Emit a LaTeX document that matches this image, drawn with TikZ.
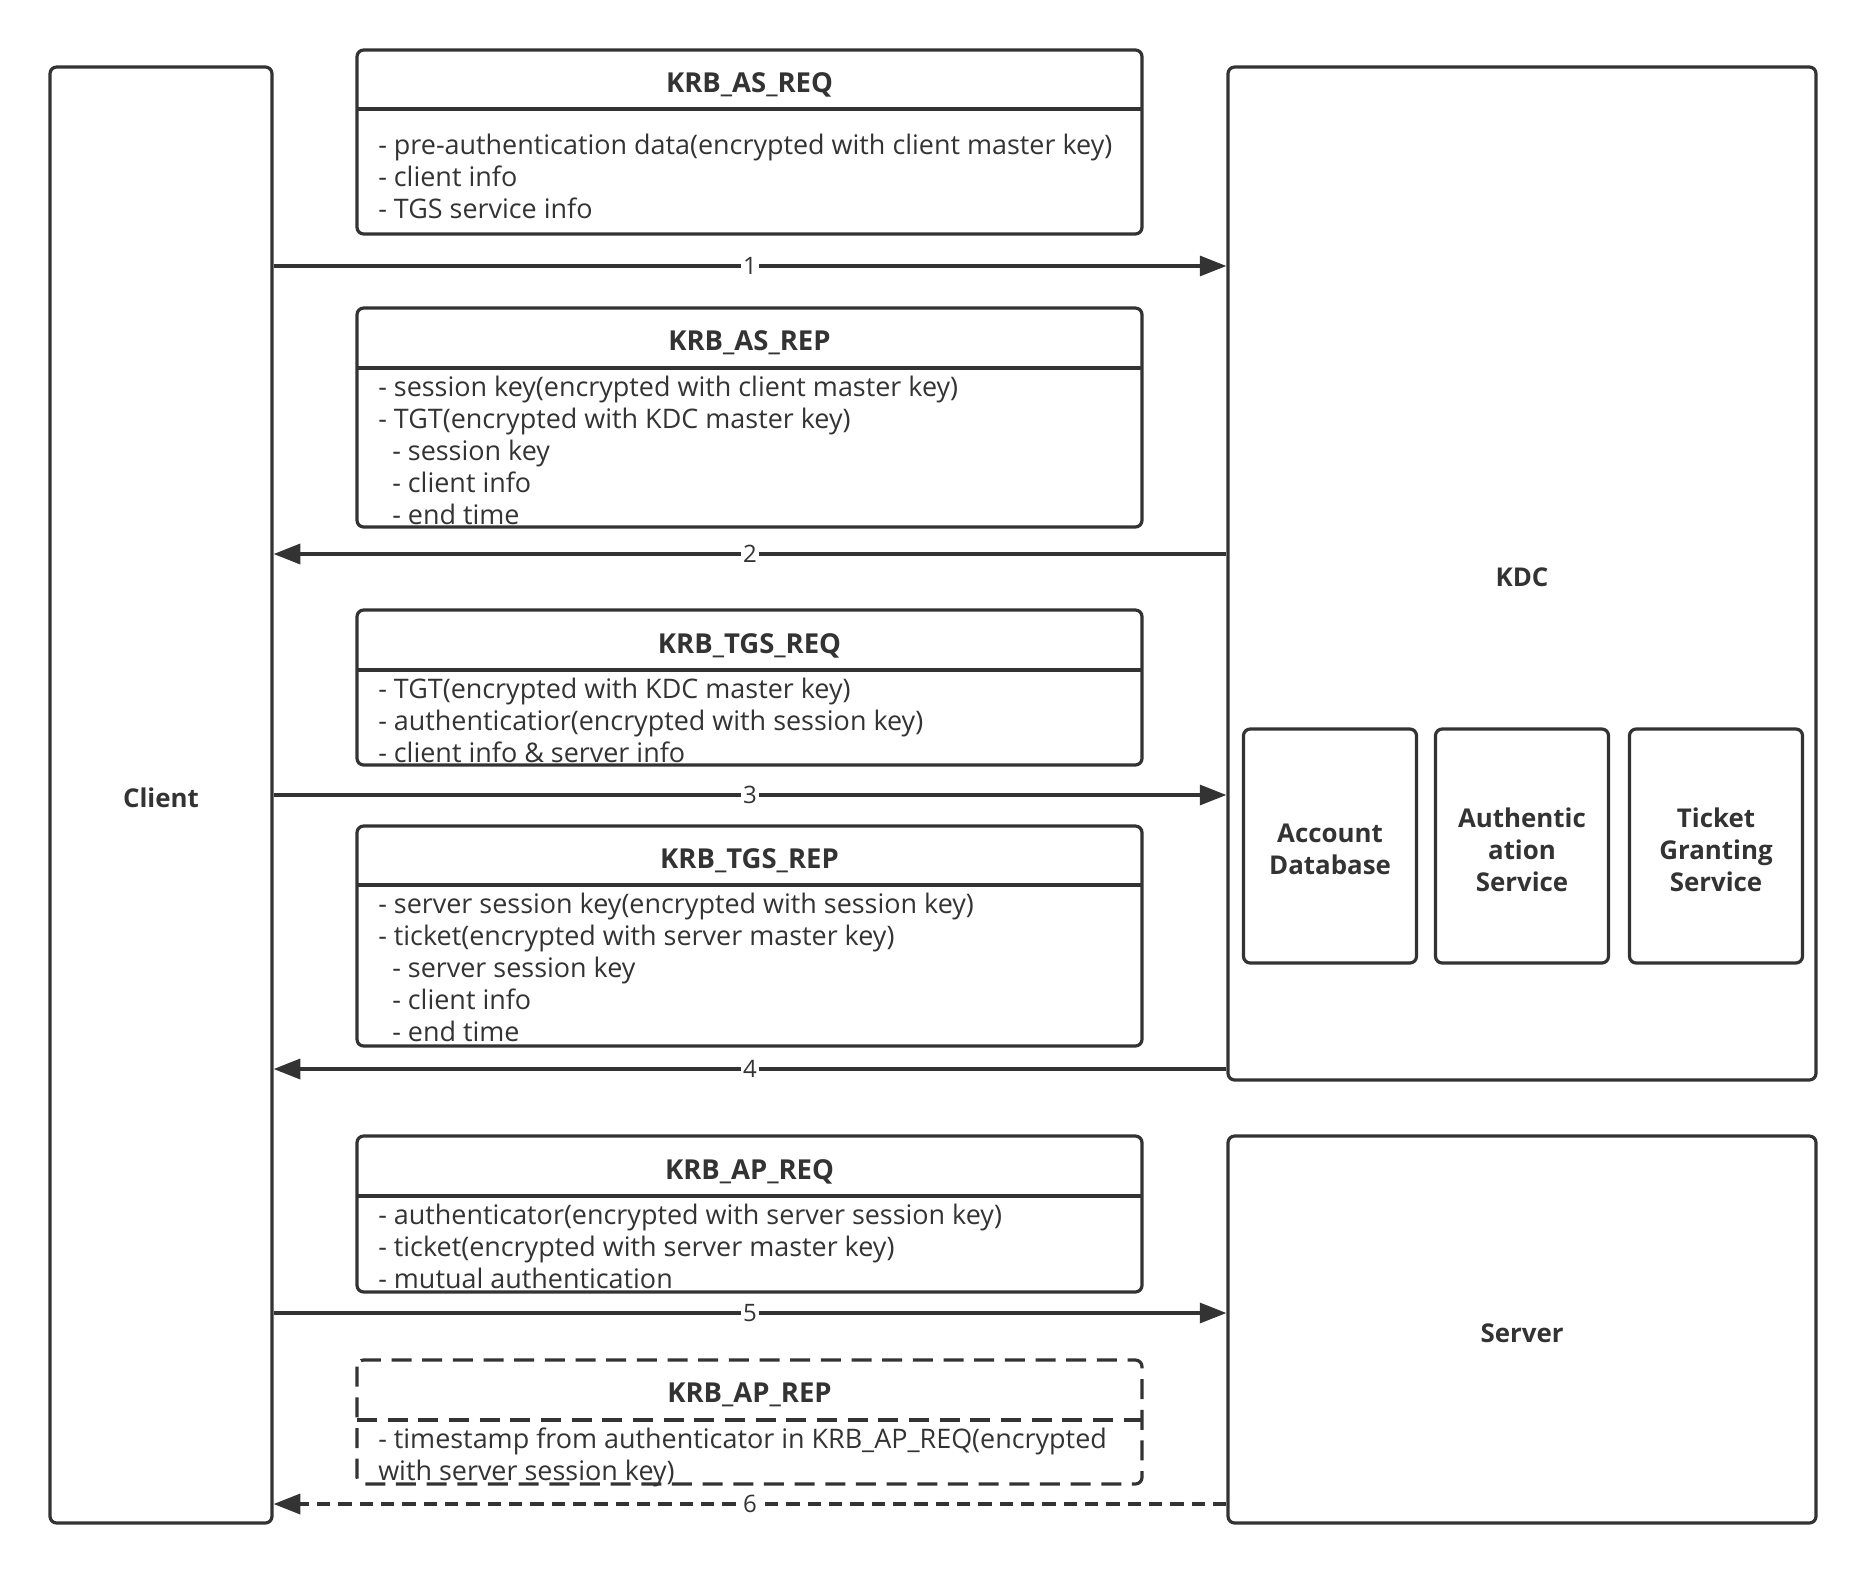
\documentclass[tikz,border=0pt]{standalone}
\usepackage{fontspec}
\setmainfont{Open Sans}
\usetikzlibrary{arrows.meta,positioning}

\definecolor{ink}{HTML}{333333}

\tikzset{
	party/.style={draw=ink, line width=2.4pt, rounded corners=5pt, inner sep=0pt, text=ink, align=center, font=\bfseries\fontsize{19.4}{24}\selectfont},
	drop/.style={text height=#1, text depth=0pt},
	msgbox/.style={draw=ink, line width=2.4pt, rounded corners=5pt},
	msgline/.style={draw=ink, line width=2.4pt},
	title/.style={anchor=base, inner sep=0pt, text=ink, font=\bfseries\fontsize{20.6}{24}\selectfont},
	body/.style={anchor=north west, inner sep=0pt, align=left, text=ink, font=\fontsize{20.2}{24}\selectfont},
	flow/.style={draw=ink, line width=2.6pt, -{Triangle[length=20pt,width=15pt]}},
	num/.style={fill=white, inner sep=1.5pt, text=ink, font=\fontsize{18}{20}\selectfont},
}

\begin{document}
\begin{tikzpicture}[x=0.75pt, y=-0.75pt, line join=round]
	\useasboundingbox (0,0) rectangle (1866,1573);
	
	
	
	% client, kdc and server
	\node[party, drop=19pt, minimum width=166.5pt, minimum height=1092pt] (client) at (161,795) {Client};
	\node[party, drop=19pt, minimum width=441pt, minimum height=759.75pt] (kdc) at (1522,573.5) {KDC};
	\node[party, drop=19pt, minimum width=441pt, minimum height=290.25pt] (server) at (1522,1329.5) {Server};
	
	% parts of the kdc
	\node[party, drop=43pt, minimum width=129.75pt, minimum height=175.5pt] (db) at (1330,846) {Account\\Database};
	\node[party, drop=68pt, minimum width=129.75pt, minimum height=175.5pt] (as) at (1522,846) {Authentic\\ation\\Service};
	\node[party, drop=68pt, minimum width=129.75pt, minimum height=175.5pt] (tgs) at (1716,846) {Ticket\\Granting\\Service};
	
	
	
	% KRB_AS_REQ
	\draw[msgbox] (357,50) rectangle (1142,234);
	\draw[msgline] (357,109) -- (1142,109);
	\node[title] (asreq) at (749.5,93) {KRB\_AS\_REQ};
	\node[body] (asreqbody) at (378,132) {\strut- pre-authentication data(encrypted with client master key)\\- client info\\- TGS service info};
	
	% KRB_AS_REP
	\draw[msgbox] (357,308) rectangle (1142,527);
	\draw[msgline] (357,368) -- (1142,368);
	\node[title] (asrep) at (749.5,350) {KRB\_AS\_REP};
	\node[body] (asrepbody) at (378,374) {\strut- session key(encrypted with client master key)\\- TGT(encrypted with KDC master key)\\\ \ - session key\\\ \ - client info\\\ \ - end time};
	
	% KRB_TGS_REQ
	\draw[msgbox] (357,610) rectangle (1142,765);
	\draw[msgline] (357,670) -- (1142,670);
	\node[title] (tgsreq) at (749.5,653) {KRB\_TGS\_REQ};
	\node[body] (tgsreqbody) at (378,676) {\strut- TGT(encrypted with KDC master key)\\- authenticatior(encrypted with session key)\\- client info \& server info};
	
	% KRB_TGS_REP
	\draw[msgbox] (357,826) rectangle (1142,1046);
	\draw[msgline] (357,885) -- (1142,885);
	\node[title] (tgsrep) at (749.5,868) {KRB\_TGS\_REP};
	\node[body] (tgsrepbody) at (378,891) {\strut- server session key(encrypted with session key)\\- ticket(encrypted with server master key)\\\ \ - server session key\\\ \ - client info\\\ \ - end time};
	
	% KRB_AP_REQ
	\draw[msgbox] (357,1136) rectangle (1142,1292);
	\draw[msgline] (357,1196) -- (1142,1196);
	\node[title] (apreq) at (749.5,1179) {KRB\_AP\_REQ};
	\node[body] (apreqbody) at (378,1202) {\strut- authenticator(encrypted with server session key)\\- ticket(encrypted with server master key)\\- mutual authentication};
	
	% KRB_AP_REP, dashed
	\draw[msgbox, dash pattern=on 15pt off 8pt] (357,1360) rectangle (1142,1484);
	\draw[msgline, dash pattern=on 15pt off 8pt] (357,1420) -- (1142,1420);
	\node[title] (aprep) at (749.5,1402) {KRB\_AP\_REP};
	\node[body] (aprepbody) at (378,1426) {\strut- timestamp from authenticator in KRB\_AP\_REQ(encrypted\\with server session key)};
	
	
	
	% messages
	\coordinate (m1) at (0,266);
	\coordinate (m2) at (0,554);
	\coordinate (m3) at (0,795);
	\coordinate (m4) at (0,1069);
	\coordinate (m5) at (0,1313);
	\coordinate (m6) at (0,1504);
	
	\draw[flow] (client.east |- m1) -- node[num]{1} (kdc.west |- m1);
	\draw[flow] (kdc.west |- m2) -- node[num]{2} (client.east |- m2);
	\draw[flow] (client.east |- m3) -- node[num]{3} (kdc.west |- m3);
	\draw[flow] (kdc.west |- m4) -- node[num]{4} (client.east |- m4);
	\draw[flow] (client.east |- m5) -- node[num]{5} (server.west |- m5);
	\draw[flow, dash pattern=on 10pt off 6pt] (server.west |- m6) -- node[num]{6} (client.east |- m6);
	
\end{tikzpicture}
\end{document}
